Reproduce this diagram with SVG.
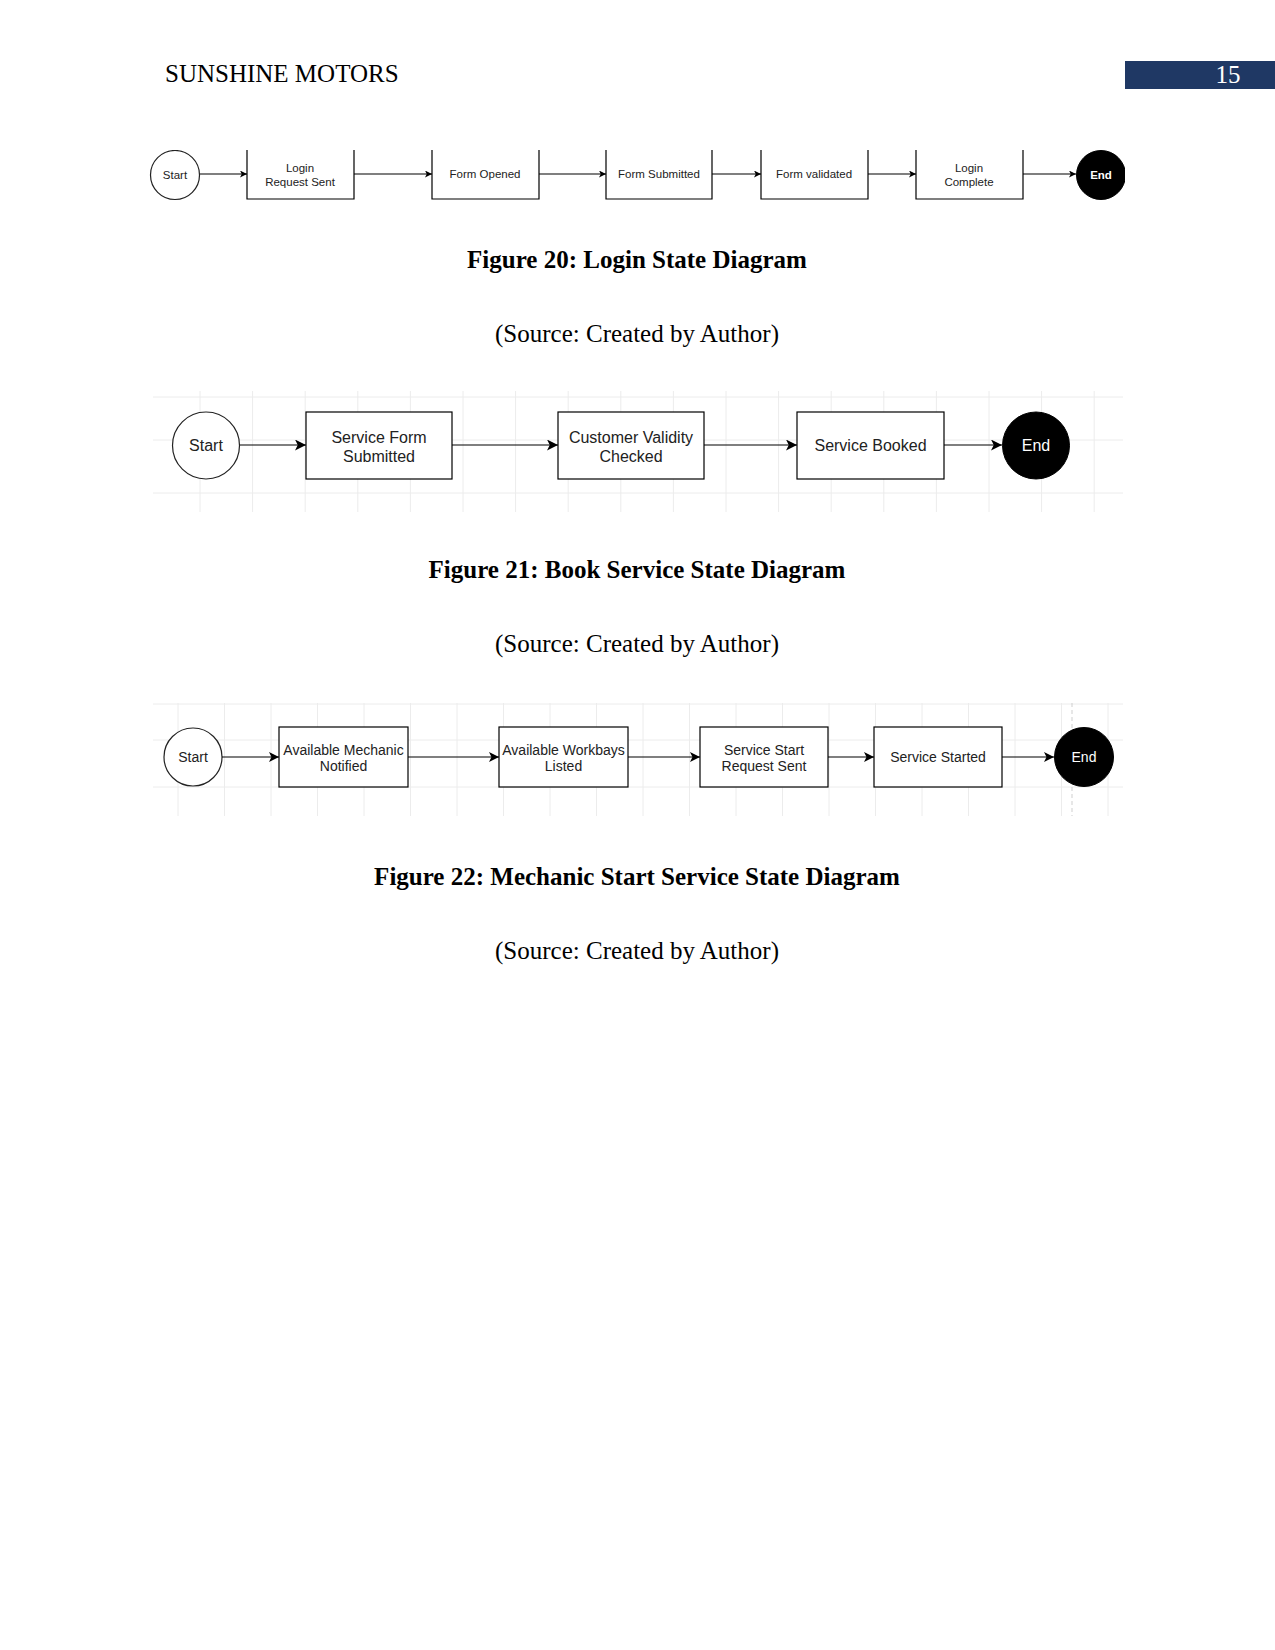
<svg xmlns="http://www.w3.org/2000/svg" width="1275" height="1650" viewBox="0 0 1275 1650">
<defs>
<style>
.page{font-family:"Liberation Serif","Times New Roman",serif;font-size:25px;fill:#000}
.cap{font-weight:bold;text-anchor:middle}
.src{text-anchor:middle}
.box{fill:#fff;stroke:#000;stroke-width:1.2}
.st{fill:#fff;stroke:#222;stroke-width:1.2}
.en{fill:#000;stroke:#000}
.lbl{font-family:"Liberation Sans",Arial,sans-serif;fill:#222;text-anchor:middle}
.elbl{font-family:"Liberation Sans",Arial,sans-serif;fill:#fff;text-anchor:middle}
.f20{font-size:11.5px}
.f21{font-size:16px}
.f22{font-size:14px}
.edge{stroke:#000;stroke-width:1.2;fill:none}
.grid{stroke:#ececec;stroke-width:1}
</style>
<marker id="a1" viewBox="0 0 10 10" refX="10" refY="5" markerWidth="7" markerHeight="7" markerUnits="userSpaceOnUse" orient="auto"><path d="M0,0 L10,5 L0,10 L2.5,5 Z" fill="#000"/></marker>
<marker id="a2" viewBox="0 0 10 10" refX="10" refY="5" markerWidth="11" markerHeight="11" markerUnits="userSpaceOnUse" orient="auto"><path d="M0,0 L10,5 L0,10 L2.5,5 Z" fill="#000"/></marker>
<marker id="a3" viewBox="0 0 10 10" refX="10" refY="5" markerWidth="10" markerHeight="10" markerUnits="userSpaceOnUse" orient="auto"><path d="M0,0 L10,5 L0,10 L2.5,5 Z" fill="#000"/></marker>
<clipPath id="c20"><rect x="140" y="150" width="985" height="55"/></clipPath>
</defs>
<rect width="1275" height="1650" fill="#fff"/>

<!-- header -->
<g id="header">
<text class="page" x="165" y="82">SUNSHINE MOTORS</text>
<rect x="1125" y="61" width="150" height="28" fill="#1F3864"/>
<text class="page" x="1228" y="83" text-anchor="middle" fill="#fff" style="fill:#fff">15</text>
</g>

<!-- Figure 20 -->
<g id="fig20" clip-path="url(#c20)">
<g id="f20-start"><circle class="st" cx="175" cy="175" r="24.5"/><text class="lbl f20" x="175" y="179">Start</text></g>
<g id="f20-login"><path class="box" d="M247,150 V199 H354 V150"/><text class="lbl f20" x="300" y="172">Login</text><text class="lbl f20" x="300" y="186">Request Sent</text></g>
<g id="f20-opened"><path class="box" d="M432,150 V199 H539 V150"/><text class="lbl f20" x="485" y="178">Form Opened</text></g>
<g id="f20-submitted"><path class="box" d="M606,150 V199 H712 V150"/><text class="lbl f20" x="659" y="178">Form Submitted</text></g>
<g id="f20-validated"><path class="box" d="M761,150 V199 H868 V150"/><text class="lbl f20" x="814" y="178">Form validated</text></g>
<g id="f20-complete"><path class="box" d="M916,150 V199 H1023 V150"/><text class="lbl f20" x="969" y="172">Login</text><text class="lbl f20" x="969" y="186">Complete</text></g>
<g id="f20-end"><circle class="en" cx="1101" cy="175" r="24.5"/><text class="elbl f20" x="1101" y="179" font-weight="bold">End</text></g>
<g id="f20-edges">
<line class="edge" x1="200" y1="174" x2="247" y2="174" marker-end="url(#a1)"/>
<line class="edge" x1="354" y1="174" x2="432" y2="174" marker-end="url(#a1)"/>
<line class="edge" x1="539" y1="174" x2="606" y2="174" marker-end="url(#a1)"/>
<line class="edge" x1="712" y1="174" x2="761" y2="174" marker-end="url(#a1)"/>
<line class="edge" x1="868" y1="174" x2="916" y2="174" marker-end="url(#a1)"/>
<line class="edge" x1="1023" y1="174" x2="1076" y2="174" marker-end="url(#a1)"/>
</g>
</g>
<text class="page cap" x="637" y="268">Figure 20: Login State Diagram</text>
<text class="page src" x="637" y="342">(Source: Created by Author)</text>

<!-- Figure 21 -->
<g id="fig21-grid">
<path class="grid" d="M153,397 H1123 M153,440 H1123 M153,493 H1123 M200,391 V512 M252.6,391 V512 M305.2,391 V512 M357.8,391 V512 M410.4,391 V512 M463,391 V512 M515.6,391 V512 M568.2,391 V512 M620.8,391 V512 M673.4,391 V512 M726,391 V512 M778.6,391 V512 M831.2,391 V512 M883.8,391 V512 M936.4,391 V512 M989,391 V512 M1041.6,391 V512 M1094.2,391 V512"/>
</g>
<g id="fig21">
<g id="f21-start"><circle class="st" cx="206" cy="445.5" r="33.5"/><text class="lbl f21" x="206" y="451">Start</text></g>
<g id="f21-form"><rect class="box" x="306" y="412" width="146" height="67"/><text class="lbl f21" x="379" y="443">Service Form</text><text class="lbl f21" x="379" y="462">Submitted</text></g>
<g id="f21-validity"><rect class="box" x="558" y="412" width="146" height="67"/><text class="lbl f21" x="631" y="443">Customer Validity</text><text class="lbl f21" x="631" y="462">Checked</text></g>
<g id="f21-booked"><rect class="box" x="797" y="412" width="147" height="67"/><text class="lbl f21" x="870.5" y="451">Service Booked</text></g>
<g id="f21-end"><circle class="en" cx="1036" cy="445.5" r="33.5"/><text class="elbl f21" x="1036" y="451">End</text></g>
<g id="f21-edges">
<line class="edge" x1="240" y1="445" x2="306" y2="445" marker-end="url(#a2)"/>
<line class="edge" x1="452" y1="445" x2="558" y2="445" marker-end="url(#a2)"/>
<line class="edge" x1="704" y1="445" x2="797" y2="445" marker-end="url(#a2)"/>
<line class="edge" x1="944" y1="445" x2="1002" y2="445" marker-end="url(#a2)"/>
</g>
</g>
<text class="page cap" x="637" y="578">Figure 21: Book Service State Diagram</text>
<text class="page src" x="637" y="652">(Source: Created by Author)</text>

<!-- Figure 22 -->
<g id="fig22-grid">
<path class="grid" d="M153,704 H1123 M153,740 H1123 M153,787 H1123 M178,703 V816 M224.5,703 V816 M271,703 V816 M317.5,703 V816 M364,703 V816 M410.5,703 V816 M457,703 V816 M503.5,703 V816 M550,703 V816 M596.5,703 V816 M643,703 V816 M689.5,703 V816 M736,703 V816 M782.5,703 V816 M829,703 V816 M875.5,703 V816 M922,703 V816 M968.5,703 V816 M1015,703 V816 M1061.5,703 V816 M1108,703 V816"/>
<line x1="1072" y1="703" x2="1072" y2="816" stroke="#cfcfcf" stroke-width="1" stroke-dasharray="4,3"/>
</g>
<g id="fig22">
<g id="f22-start"><circle class="st" cx="193" cy="757" r="29"/><text class="lbl f22" x="193" y="762">Start</text></g>
<g id="f22-mechanic"><rect class="box" x="279" y="727" width="129" height="60"/><text class="lbl f22" x="343.5" y="755">Available Mechanic</text><text class="lbl f22" x="343.5" y="771">Notified</text></g>
<g id="f22-workbays"><rect class="box" x="499" y="727" width="129" height="60"/><text class="lbl f22" x="563.5" y="755">Available Workbays</text><text class="lbl f22" x="563.5" y="771">Listed</text></g>
<g id="f22-request"><rect class="box" x="700" y="727" width="128" height="60"/><text class="lbl f22" x="764" y="755">Service Start</text><text class="lbl f22" x="764" y="771">Request Sent</text></g>
<g id="f22-started"><rect class="box" x="874" y="727" width="128" height="60"/><text class="lbl f22" x="938" y="762">Service Started</text></g>
<g id="f22-end"><circle class="en" cx="1084" cy="757" r="29.5"/><text class="elbl f22" x="1084" y="762">End</text></g>
<g id="f22-edges">
<line class="edge" x1="222" y1="757" x2="279" y2="757" marker-end="url(#a3)"/>
<line class="edge" x1="408" y1="757" x2="499" y2="757" marker-end="url(#a3)"/>
<line class="edge" x1="628" y1="757" x2="700" y2="757" marker-end="url(#a3)"/>
<line class="edge" x1="828" y1="757" x2="874" y2="757" marker-end="url(#a3)"/>
<line class="edge" x1="1002" y1="757" x2="1054" y2="757" marker-end="url(#a3)"/>
</g>
</g>
<text class="page cap" x="637" y="885">Figure 22: Mechanic Start Service State Diagram</text>
<text class="page src" x="637" y="959">(Source: Created by Author)</text>
</svg>
